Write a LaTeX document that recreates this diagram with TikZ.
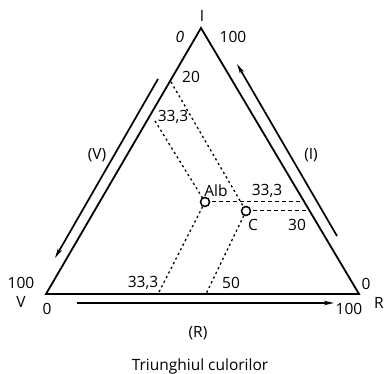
\documentclass[tikz,border=0pt]{standalone}
\usepackage{fontspec}
\setmainfont{Open Sans}
\usetikzlibrary{arrows.meta}
\begin{document}
\begin{tikzpicture}[x=1pt,y=-1pt,
  lbl/.style={inner sep=0pt,font=\fontsize{15.5}{17}\selectfont},
  side/.style={line width=1.8pt,line join=miter},
  guide/.style={line width=1pt,dash pattern=on 4pt off 3pt},
  fine/.style={line width=1.3pt,dash pattern=on 2.2pt off 3pt},
  scale arrow/.style={line width=1.7pt,-{Stealth[length=10pt,width=4.5pt]}},
  pt/.style={circle,draw,line width=1.5pt,fill=white,minimum size=9pt,inner sep=0pt}]
\useasboundingbox (0,0) rectangle (384,374);
% vertices
\coordinate (I) at (201,28);
\coordinate (V) at (46,294);
\coordinate (R) at (359,294);
% points on sides
\coordinate (L20) at (171,82);
\coordinate (L33) at (155,121);
\coordinate (RA) at (304,202);
\coordinate (RC) at (309,211);
\coordinate (B33) at (158,294);
\coordinate (B50) at (206,294);
% guide lines
\draw[fine] (L33) -- (205,202);
\draw[fine] (L20) -- (246,211);
\draw[guide] (205,202) -- (RA);
\draw[guide] (246,211) -- (RC);
\draw[fine] (205,202) -- (B33);
\draw[fine] (246,211) -- (B50);
% triangle
\draw[side] (I) -- (V) -- (R) -- cycle;
% points
\node[pt] (alb) at (205,202) {};
\node[pt] (c) at (246,211) {};
% scale arrows
\coordinate (va) at (158,79);
\coordinate (vb) at (55,258);
\draw[scale arrow] (va) -- (vb);
\coordinate (ia) at (337,236);
\coordinate (ib) at (237,64);
\draw[scale arrow] (ia) -- (ib);
\coordinate (ra) at (77,303);
\coordinate (rb) at (334,303);
\draw[scale arrow] (ra) -- (rb);
% labels
\node[lbl] (tI) at (202,16) {I};
\node[lbl] (t0a) at (180,37) {\itshape 0};
\node[lbl] (t100a) at (233,37) {100};
\node[lbl] (t20) at (191,77) {20};
\node[lbl] (t33a) at (173,117) {33,3};
\node[lbl] (talb) at (216,191) {Alb};
\node[lbl] (t33b) at (267,191) {33,3};
\node[lbl] (tC) at (253,225) {C};
\node[lbl] (t30) at (297,225) {30};
\node[lbl] (tV) at (97,155) {(V)};
\node[lbl] (tIp) at (311,155) {(I)};
\node[lbl] (t100v) at (21,283) {100};
\node[lbl] (tVv) at (21,302) {V};
\node[lbl] (t0v) at (47,309) {0};
\node[lbl] (t33c) at (143,283) {33,3};
\node[lbl] (t50) at (231,283) {50};
\node[lbl] (t0r) at (366,284) {0};
\node[lbl] (t100r) at (349,309) {100};
\node[lbl] (tR) at (379,303) {R};
\node[lbl] (tRp) at (198,333) {(R)};
\node[lbl] (title) at (200,366) {Triunghiul culorilor};
\end{tikzpicture}
\end{document}
